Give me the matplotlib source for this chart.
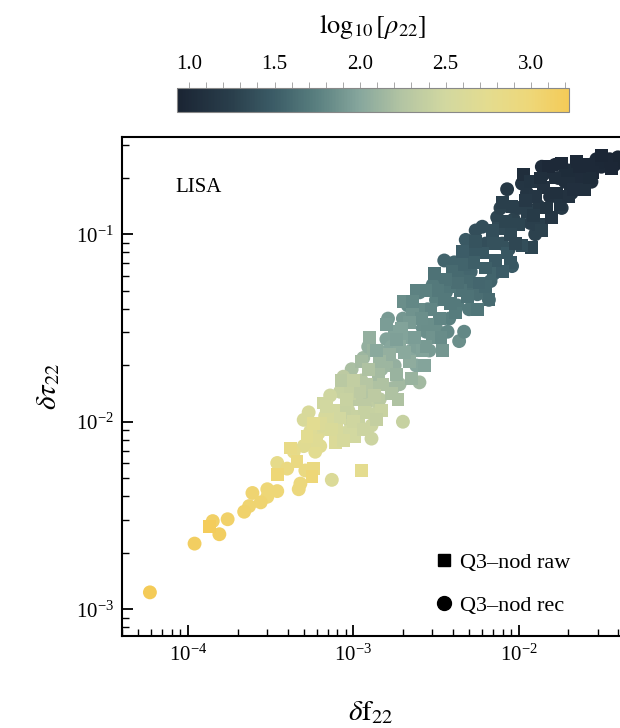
import numpy as np
import matplotlib
matplotlib.use("Agg")
import matplotlib.pyplot as plt
from matplotlib.colors import LinearSegmentedColormap
from matplotlib.lines import Line2D
from matplotlib.ticker import LogLocator, MultipleLocator, NullFormatter

plt.rcParams['font.family'] = ['Liberation Serif', 'DejaVu Serif']
plt.rcParams['mathtext.fontset'] = 'stix'

# values (log10 of delta f22, delta tau22, rho22)
# Q3-nod raw (squares)
raw_logf = [-1.42, -1.47, -1.52, -1.58, -1.65, -1.69, -1.75, -1.80, -1.72, -1.78,
            -1.85, -1.90, -1.97, -1.92, -1.88, -1.95, -2.00, -2.05, -1.82, -1.62,
            -1.55, -1.60, -1.70, -1.93, -2.10, -1.86, -1.98,
            -2.05, -2.10, -2.15, -2.18, -2.22, -2.28, -2.26, -2.30, -2.35, -2.40,
            -2.45, -2.51, -2.20, -2.12, -2.38, -2.33, -2.25, -2.42, -2.48, -2.07,
            -2.55, -2.60, -2.64, -2.68, -2.72, -2.75, -2.80, -2.80, -2.85, -2.88,
            -2.92, -2.95, -2.98, -2.77, -2.83, -2.58, -2.62, -2.70, -2.90, -2.52, -2.66,
            -3.01, -3.05, -3.10, -3.11, -3.12, -3.02, -3.07, -3.15, -3.20, -3.24,
            -3.24, -3.25, -3.34, -3.38, -3.46, -2.95, -3.18, -2.97,
            -3.87,
            -1.44, -1.50, -1.57, -1.63, -1.67, -1.74, -1.77, -1.83, -1.87, -1.91,
            -1.96, -2.02, -2.04, -2.08, -2.14, -2.16, -2.20, -2.24, -2.27, -2.31,
            -2.34, -2.37, -2.41, -2.44, -2.47, -2.49, -2.53, -2.56, -2.59, -2.63,
            -2.66, -2.69, -2.71, -2.74, -2.78, -2.82, -2.84, -2.87, -2.91, -2.93,
            -2.96, -3.00, -3.04, -3.08, -3.13, -3.16, -3.22, -3.28, -3.00,
            -2.99, -3.06, -2.94, -2.86, -2.73, -2.65, -2.57, -2.46, -2.86, -2.74,
            -2.64, -2.56]
raw_logtau = [-0.60, -0.61, -0.62, -0.63, -0.61, -0.73, -0.84, -0.91, -0.66, -0.70,
              -0.75, -0.80, -0.68, -1.07, -0.95, -0.88, -0.95, -1.00, -0.64, -0.70,
              -0.67, -0.76, -0.80, -0.72, -0.83, -0.98, -1.06,
              -1.15, -1.20, -1.05, -1.35, -1.10, -1.09, -1.04, -1.25, -1.30, -1.20,
              -1.35, -1.21, -1.28, -0.97, -1.42, -1.16, -1.40, -1.28, -1.45, -1.10,
              -1.48, -1.40, -1.43, -1.55, -1.60, -1.52, -1.48, -1.70, -1.75, -1.62,
              -1.80, -1.68, -1.88, -1.85, -1.94, -1.62, -1.30, -1.36, -1.55, -1.55, -1.68,
              -2.05, -1.95, -2.04, -2.11, -1.94, -1.85, -1.78, -1.98, -2.01, -2.01,
              -2.25, -2.29, -2.21, -2.14, -2.28, -2.26, -1.90, -1.97,
              -2.56,
              -0.65, -0.58, -0.70, -0.64, -0.76, -0.62, -0.78, -0.86, -0.70, -0.90,
              -0.82, -1.05, -0.85, -0.93, -1.14, -0.98, -1.18, -1.26, -1.15, -1.33,
              -1.09, -1.26, -1.37, -1.24, -1.55, -1.30, -1.40, -1.60, -1.45, -1.55,
              -1.47, -1.63, -1.50, -1.75, -1.64, -1.80, -1.68, -1.86, -1.72, -1.95,
              -1.84, -2.00, -1.88, -1.98, -2.04, -1.92, -2.10, -2.08, -1.78,
              -2.08, -2.10, -2.04, -1.99, -1.88, -1.77, -1.70, -1.62, -1.62, -1.56,
              -1.36, -1.30]
raw_logrho = [0.95, 0.97, 0.98, 1.00, 1.00, 1.05, 1.12, 1.15, 1.02, 1.05,
              1.10, 1.15, 1.05, 1.30, 1.25, 1.25, 1.30, 1.33, 1.00, 1.03,
              1.00, 1.08, 1.10, 1.12, 1.25, 1.27, 1.38,
              1.45, 1.50, 1.40, 1.60, 1.45, 1.45, 1.42, 1.60, 1.65, 1.60,
              1.70, 1.65, 1.58, 1.35, 1.72, 1.55, 1.68, 1.68, 1.78, 1.45,
              1.84, 1.82, 1.87, 1.97, 2.02, 1.97, 1.94, 2.12, 2.17, 2.10,
              2.27, 2.17, 2.32, 2.22, 2.42, 1.97, 1.77, 1.84, 2.07, 1.87, 2.04,
              2.50, 2.40, 2.55, 2.62, 2.50, 2.38, 2.30, 2.55, 2.62, 2.72,
              2.90, 3.00, 2.90, 2.85, 3.00, 2.75, 2.47, 2.42,
              3.20,
              0.97, 0.96, 1.02, 1.00, 1.07, 1.00, 1.08, 1.13, 1.06, 1.20,
              1.18, 1.32, 1.25, 1.30, 1.47, 1.38, 1.52, 1.57, 1.52, 1.65,
              1.50, 1.62, 1.70, 1.65, 1.83, 1.70, 1.78, 1.92, 1.85, 1.94,
              1.92, 2.02, 1.97, 2.10, 2.07, 2.22, 2.12, 2.32, 2.22, 2.40,
              2.32, 2.47, 2.42, 2.50, 2.60, 2.50, 2.68, 2.72, 2.37,
              2.50, 2.55, 2.45, 2.38, 2.22, 2.10, 1.98, 1.90, 2.02, 1.95,
              1.80, 1.75]

# Q3-nod rec (circles)
rec_logf = [-1.40, -1.45, -1.50, -1.56, -1.78, -1.85, -2.07, -1.88, -1.95, -2.03,
            -2.13, -2.26, -1.68, -1.74, -2.04, -2.10, -1.90,
            -2.45, -2.39, -2.47, -2.60, -2.15, -2.18, -2.30, -2.36, -2.33,
            -2.55, -2.50, -2.60, -2.70, -2.80, -2.81, -2.94, -3.01, -2.75, -2.65,
            -2.86, -2.70, -2.89, -2.89, -2.92,
            -3.05, -3.16, -3.17, -3.21, -3.30, -3.27, -3.30, -3.24, -3.20, -3.23,
            -3.13, -3.29, -3.32, -3.33, -3.46, -3.46, -3.52, -3.52, -3.56, -3.61,
            -3.63, -3.66, -3.76, -3.81, -3.85, -3.96, -4.23,
            -1.60, -1.65, -1.72, -2.20, -2.35, -2.58, -2.77, -2.50, -3.00, -2.95,
            -3.08, -2.85,
            -1.42, -1.53, -1.58, -1.64, -1.70, -1.76, -1.81, -1.86, -1.93, -1.98,
            -2.00, -2.06, -2.11, -2.17, -2.22, -2.25, -2.29, -2.32, -2.37, -2.42,
            -2.44, -2.52, -2.56, -2.62, -2.67, -2.72, -2.76, -2.79, -2.83, -2.88,
            -2.91, -2.97, -3.03, -3.06, -3.10, -3.14, -3.19, -3.26, -3.36, -3.40,
            -3.02, -2.93, -2.84, -2.72, -2.62, -2.54, -2.43, -2.28]
rec_logtau = [-0.59, -0.60, -0.64, -0.72, -0.63, -0.68, -0.76, -0.85, -0.78, -0.92,
              -0.91, -0.98, -0.78, -0.86, -1.17, -1.05, -1.00,
              -1.14, -1.15, -1.26, -1.31, -1.21, -1.35, -1.40, -1.57, -1.52,
              -1.40, -1.50, -1.79, -1.45, -1.56, -1.63, -1.66, -1.72, -1.70, -1.62,
              -1.80, -2.00, -2.09, -2.02, -1.90,
              -2.06, -1.94, -1.97, -2.06, -1.99, -1.95, -2.13, -2.12, -2.13, -2.16,
              -2.31, -2.26, -2.33, -2.36, -2.22, -2.37, -2.36, -2.40, -2.43, -2.38,
              -2.45, -2.48, -2.52, -2.60, -2.53, -2.65, -2.91,
              -0.66, -0.68, -0.72, -1.05, -1.22, -1.50, -1.60, -1.35, -1.88, -1.78,
              -1.84, -1.90,
              -0.63, -0.60, -0.68, -0.73, -0.66, -0.70, -0.80, -0.64, -0.94, -0.73,
              -0.86, -1.08, -0.86, -1.25, -0.96, -1.32, -1.20, -1.03, -1.38, -1.45,
              -1.31, -1.27, -1.52, -1.70, -1.38, -1.56, -1.82, -1.45, -1.72, -1.96,
              -1.60, -2.02, -1.94, -1.76, -2.08, -1.86, -2.02, -2.05, -2.16, -2.25,
              -2.00, -1.84, -1.88, -1.80, -1.60, -1.62, -1.52, -1.28]
rec_logrho = [0.95, 0.97, 1.00, 1.05, 1.00, 1.05, 1.17, 1.17, 1.14, 1.27,
              1.30, 1.38, 1.08, 1.17, 1.48, 1.40, 1.27,
              1.55, 1.55, 1.65, 1.75, 1.55, 1.60, 1.70, 1.85, 1.80,
              1.80, 1.84, 2.15, 1.90, 1.97, 2.02, 2.12, 2.20, 2.07, 2.00,
              2.22, 2.40, 2.45, 2.45, 2.32,
              2.50, 2.50, 2.55, 2.62, 2.58, 2.58, 2.70, 2.70, 2.70, 2.72,
              2.62, 2.90, 2.95, 2.95, 2.80, 3.00, 3.00, 3.00, 3.05, 3.05,
              3.05, 3.08, 3.10, 3.15, 3.12, 3.15, 3.22,
              1.00, 1.02, 1.05, 1.38, 1.60, 1.85, 2.00, 1.75, 2.35, 2.27,
              2.40, 2.35,
              0.96, 0.98, 1.00, 1.04, 1.02, 1.05, 1.10, 1.03, 1.25, 1.14,
              1.25, 1.40, 1.27, 1.55, 1.38, 1.62, 1.57, 1.47, 1.70, 1.75,
              1.68, 1.70, 1.85, 2.00, 1.82, 1.97, 2.15, 1.92, 2.12, 2.40,
              2.07, 2.47, 2.42, 2.32, 2.55, 2.47, 2.58, 2.66, 2.80, 2.90,
              2.45, 2.25, 2.30, 2.15, 1.95, 1.92, 1.80, 1.62]

# colour bar stops: (log10 rho, colour)
cbar_vals = [0.93, 1.25, 1.50, 1.75, 2.00, 2.25, 2.50, 2.75, 3.00, 3.22]
cbar_cols = ['#1a2433', '#2a3f4c', '#3c5d67', '#5a8080', '#87a79d',
             '#b4c5a3', '#d2d8a0', '#e4dc8f', '#eed778', '#f4cb58']
vmin, vmax = cbar_vals[0], cbar_vals[-1]
cmap = LinearSegmentedColormap.from_list(
    'snr', [((v - vmin) / (vmax - vmin), c) for v, c in zip(cbar_vals, cbar_cols)])

fig = plt.figure(figsize=(6.2, 7.28), dpi=100)
ax = fig.add_axes([0.197, 0.1264, 0.803, 0.6854])

ax.scatter(10 ** np.array(rec_logf), 10 ** np.array(rec_logtau), c=rec_logrho,
           cmap=cmap, vmin=vmin, vmax=vmax, marker='o', s=100, linewidths=0)
sc = ax.scatter(10 ** np.array(raw_logf), 10 ** np.array(raw_logtau), c=raw_logrho,
                cmap=cmap, vmin=vmin, vmax=vmax, marker='s', s=85, linewidths=0)

ax.set_xscale('log')
ax.set_yscale('log')
ax.set_xlim(4.0e-5, 4.1e-2)
ax.set_ylim(7.2e-4, 0.33)

for side in ['left', 'bottom', 'top']:
    ax.spines[side].set_linewidth(1.5)
ax.spines['right'].set_visible(False)

ax.xaxis.set_major_locator(LogLocator(base=10, numticks=10))
ax.xaxis.set_minor_locator(LogLocator(base=10, subs=np.arange(2, 10), numticks=10))
ax.yaxis.set_major_locator(LogLocator(base=10, numticks=10))
ax.yaxis.set_minor_locator(LogLocator(base=10, subs=np.arange(2, 10), numticks=10))
ax.xaxis.set_minor_formatter(NullFormatter())
ax.yaxis.set_minor_formatter(NullFormatter())
ax.tick_params(which='major', direction='in', length=8, width=1.3, labelsize=15, pad=6)
ax.tick_params(which='minor', direction='in', length=5, width=1.0)
ax.tick_params(top=False, right=False, which='both')

ax.set_xlabel(r'$\delta\mathrm{f}_{22}$', fontsize=21, labelpad=24)
ax.set_ylabel(r'$\delta\tau_{22}$', fontsize=21, labelpad=10)

ax.text(0.106, 0.898, 'LISA', transform=ax.transAxes, fontsize=15,
        ha='left', va='center')

handles = [Line2D([], [], marker='s', color='k', ls='none', markersize=8),
           Line2D([], [], marker='o', color='k', ls='none', markersize=10)]
ax.legend(handles, ['Q3–nod raw', 'Q3–nod rec'], loc='lower right',
          bbox_to_anchor=(0.94, 0.0), frameon=False, fontsize=16,
          handletextpad=0.2, labelspacing=1.0, handlelength=1.0)

cax = fig.add_axes([0.2855, 0.8462, 0.632, 0.033])
cb = fig.colorbar(sc, cax=cax, orientation='horizontal')
cax.xaxis.set_ticks_position('top')
cax.xaxis.set_label_position('top')
cb.set_ticks([1.0, 1.5, 2.0, 2.5, 3.0])
cax.xaxis.set_minor_locator(MultipleLocator(0.1))
cax.tick_params(which='major', direction='out', length=4, width=0.6,
                color='#999999', labelsize=15, pad=6)
cax.tick_params(which='minor', direction='out', length=4, width=0.6, color='#999999')
cb.outline.set_edgecolor('#888888')
cb.outline.set_linewidth(0.8)
cb.set_label(r'$\log_{10}[\rho_{22}]$', fontsize=19, labelpad=16)

fig.savefig('out.png', dpi=100)
